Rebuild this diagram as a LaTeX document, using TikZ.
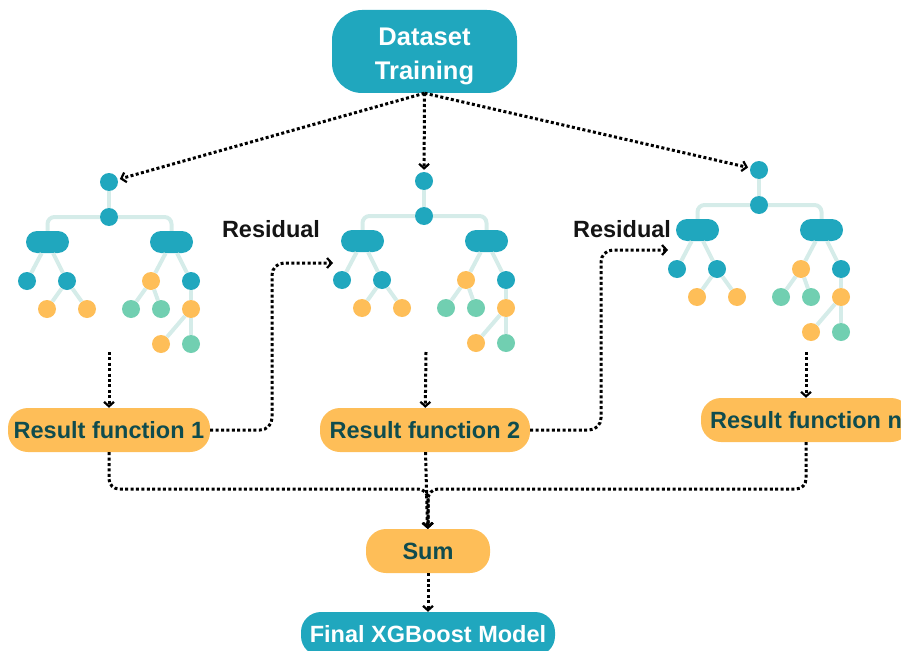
\documentclass[tikz,border=0pt]{standalone}
\usepackage{fontspec}
\setmainfont{Liberation Sans}
\usetikzlibrary{arrows.meta}
\definecolor{xgteal}{HTML}{20A7BE}
\definecolor{xgorange}{HTML}{FEBE58}
\definecolor{xggreen}{HTML}{71CFB1}
\definecolor{xgedge}{HTML}{D5ECE9}
\definecolor{xgtext}{HTML}{0F4C4E}
\tikzset{
  leaf/.style={circle, minimum size=18pt, inner sep=0pt, fill=#1},
  split/.style={rectangle, rounded corners=11pt, minimum width=43pt, minimum height=22pt, inner sep=0pt, fill=xgteal},
  branch/.style={draw=xgedge, line width=4pt},
  flow/.style={line width=3pt, dash pattern=on 3pt off 2.4pt, -{Straight Barb[length=4.5pt,width=10pt,line width=2.2pt]}},
  result/.style={rectangle, rounded corners=20pt, fill=xgorange, minimum height=44pt, text=xgtext, font=\fontsize{23.5}{28}\selectfont\bfseries},
  note/.style={text=black!92, font=\fontsize{23.5}{28}\selectfont\bfseries},
}
% one boosted tree, #1 = name prefix, #2 = root position
\newcommand{\xgtree}[2]{%
  \begin{scope}[shift={#2}]
    \node[leaf=xgteal] (#1r) at (0,0) {};
    \node[leaf=xgteal] (#1s) at (0,35) {};
    \node[split] (#1pl) at (-61.5,60) {};
    \node[split] (#1pr) at (62.5,60) {};
    \node[leaf=xgteal] (#1a) at (-82,99) {};
    \node[leaf=xgteal] (#1b) at (-42,99) {};
    \node[leaf=xgorange] (#1c) at (42,99) {};
    \node[leaf=xgteal] (#1d) at (82,99) {};
    \node[leaf=xgorange] (#1e) at (-62,127) {};
    \node[leaf=xgorange] (#1f) at (-22,127) {};
    \node[leaf=xggreen] (#1g) at (22,127) {};
    \node[leaf=xggreen] (#1h) at (52,127) {};
    \node[leaf=xgorange] (#1k) at (82,127) {};
    \node[leaf=xgorange] (#1m) at (52,162) {};
    \node[leaf=xggreen] (#1n) at (82,162) {};
    % branches
    \draw[branch] (#1r) -- (#1s);
    \draw[branch, rounded corners=7pt] (#1s) -| (#1pl);
    \draw[branch, rounded corners=7pt] (#1s) -| (#1pr);
    \draw[branch] (#1pl) -- (#1a);
    \draw[branch] (#1pl) -- (#1b);
    \draw[branch] (#1pr) -- (#1c);
    \draw[branch] (#1pr) -- (#1d);
    \draw[branch] (#1b) -- (#1e);
    \draw[branch] (#1b) -- (#1f);
    \draw[branch] (#1c) -- (#1g);
    \draw[branch] (#1c) -- (#1h);
    \draw[branch] (#1d) -- (#1k);
    \draw[branch] (#1k) -- (#1m);
    \draw[branch] (#1k) -- (#1n);
  \end{scope}}

\begin{document}
\begin{tikzpicture}[x=1pt,y=-1pt]
\clip (0,0) rectangle (901,650);

\node[rectangle, rounded corners=30pt, fill=xgteal, minimum width=185pt, minimum height=83pt, text=white, align=center, font=\fontsize{25.5}{34}\selectfont\bfseries] (data) at (424.5,51.5) {\rule{0pt}{27pt}Dataset\\Training};

\xgtree{ta}{(109,182)}
\xgtree{tb}{(424,181)}
\xgtree{tc}{(759,170)}

\node[result, minimum width=202pt] (res1) at (109,430) {Result function 1};
\node[result, minimum width=210pt] (res2) at (425,430) {Result function 2};
\node[result, minimum width=210pt] (resn) at (806,420) {Result function n};
\node[result, minimum width=124pt] (sum) at (428,551) {Sum};
\node[result, fill=xgteal, text=white, minimum width=254pt] (final) at (428,634) {Final XGBoost Model};

\node[note] (resid1) at (271,229) {Residual};
\node[note] (resid2) at (622,229) {Residual};

\coordinate (outa) at (109,352);
\coordinate (outb) at (426,352);
\coordinate (outc) at (806,352);
\coordinate (ina) at (333,263);
\coordinate (inb) at (668,250);
\coordinate (join) at (428,489);

% dataset to trees
\draw[flow, shorten >=2pt] (data.south) -- (tar);
\draw[flow, shorten >=2pt] (data.south) -- (tbr);
\draw[flow, shorten >=2pt] (data.south) -- (tcr);
% trees to results
\draw[flow] (outa) -- (res1);
\draw[flow] (outb) -- (res2);
\draw[flow] (outc) -- (resn);
% residuals
\draw[flow, rounded corners=12pt] (res1) -| ([xshift=-61pt]ina) -- (ina);
\draw[flow, rounded corners=12pt] (res2) -| ([xshift=-67pt]inb) -- (inb);
% sum
\draw[flow, rounded corners=10pt] (res1) |- (join) -- (sum);
\draw[flow] (res2) -- (sum);
\draw[flow, rounded corners=10pt] (resn) |- (join) -- (sum);
\draw[flow] (sum) -- (final);
\end{tikzpicture}
\end{document}
